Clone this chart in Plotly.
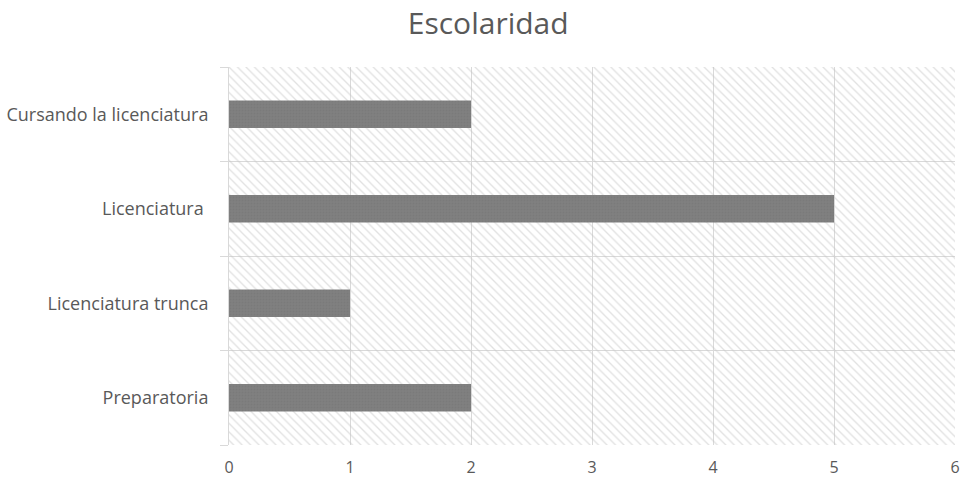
import plotly.graph_objects as go

categories = ["Preparatoria", "Licenciatura trunca", "Licenciatura\u00a0", "Cursando la licenciatura"]
values = [2, 1, 5, 2]
x_max = 6
x_ticks = [0, 1, 2, 3, 4, 5, 6]

fig = go.Figure()

# hatched plot-area background
fig.add_trace(go.Bar(
    y=categories, x=[x_max] * len(categories), orientation="h", width=1,
    marker=dict(color="rgba(0,0,0,0)", line=dict(width=0),
                pattern=dict(shape="\\", fgcolor="#c4c4c4", bgcolor="rgba(0,0,0,0)",
                             size=6, solidity=0.22, fillmode="overlay")),
    hoverinfo="skip", showlegend=False,
))

fig.add_trace(go.Bar(
    y=categories, x=values, orientation="h", width=0.29,
    marker=dict(color="#808080", line=dict(width=0),
                pattern=dict(shape=".", fgcolor="#747474", size=3, solidity=0.3, fillmode="overlay")),
    showlegend=False,
))

fig.update_layout(
    width=961, height=482,
    barmode="overlay",
    paper_bgcolor="white", plot_bgcolor="white",
    margin=dict(l=229, r=6, t=67, b=37, autoexpand=False),
    title=dict(text="Escolaridad", x=0.508, xanchor="center", y=0.952, yanchor="middle",
               font=dict(family="Open Sans, sans-serif", size=30, color="#595959")),
    font=dict(family="Open Sans, sans-serif", size=18, color="#595959"),
    xaxis=dict(range=[0, x_max], tickvals=x_ticks, showgrid=True, gridcolor="#d9d9d9",
               gridwidth=1, zeroline=False, showline=False, ticks="",
               ticklabelstandoff=11, tickfont=dict(size=16, color="#595959")),
    yaxis=dict(categoryorder="array", categoryarray=categories, tickson="boundaries",
               showgrid=True, gridcolor="#d9d9d9", gridwidth=1, ticks="outside",
               ticklen=8, tickcolor="#d9d9d9", showline=True, linecolor="#d9d9d9",
               ticklabelstandoff=16, tickfont=dict(size=18, color="#595959")),
)

fig.write_html("out.html")
